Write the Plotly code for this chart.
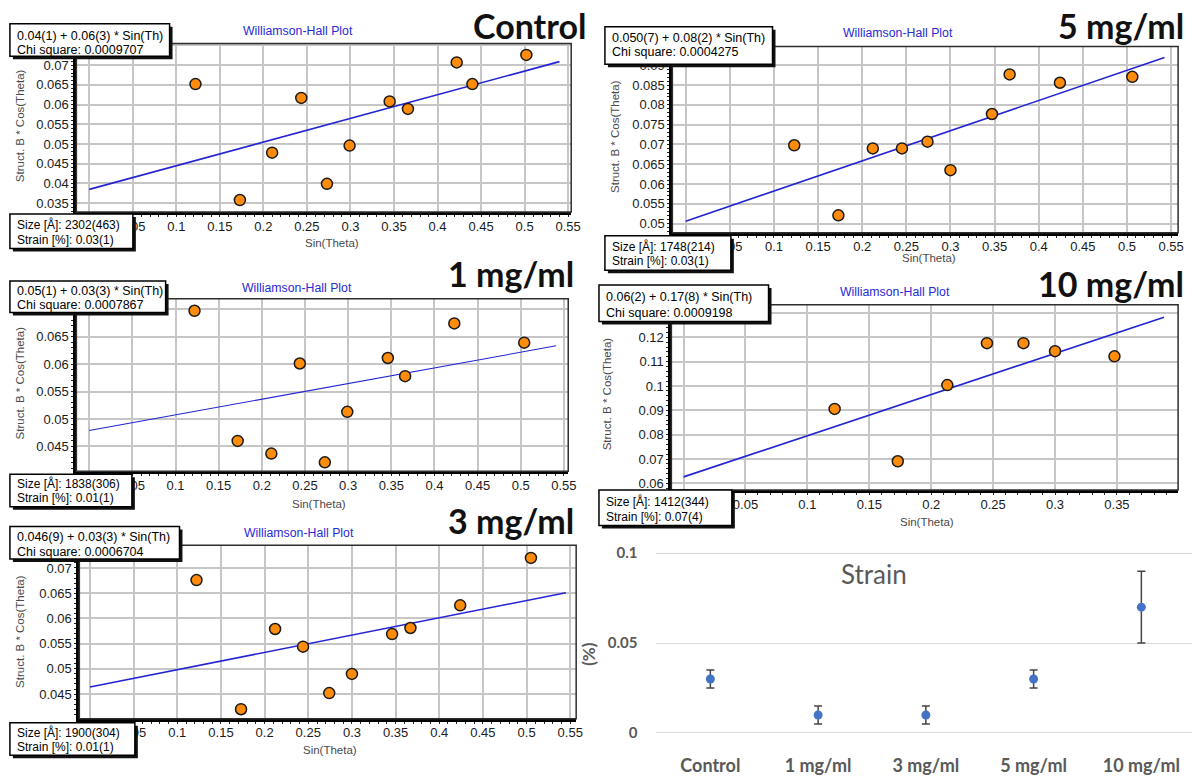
import plotly.graph_objects as go

W, H = 1202, 780

# ---------------------------------------------------------------- data ----
control_sin = [0.122, 0.173, 0.210, 0.2435, 0.273, 0.299, 0.345, 0.366, 0.422, 0.440, 0.502]
control_bcos = [0.0652, 0.0358, 0.0478, 0.0617, 0.0399, 0.0496, 0.0608, 0.0589, 0.0707, 0.0652, 0.0726]

mg1_sin = [0.122, 0.172, 0.211, 0.244, 0.273, 0.299, 0.346, 0.366, 0.423, 0.504]
mg1_bcos = [0.0697, 0.0460, 0.0437, 0.0601, 0.0421, 0.0513, 0.0611, 0.0578, 0.0674, 0.0639]

mg3_sin = [0.122, 0.173, 0.212, 0.244, 0.274, 0.300, 0.346, 0.367, 0.424, 0.505]
mg3_bcos = [0.0676, 0.0420, 0.0579, 0.0544, 0.0452, 0.0490, 0.0569, 0.0581, 0.0626, 0.0720]

mg5_sin = [0.123, 0.173, 0.212, 0.245, 0.274, 0.300, 0.347, 0.367, 0.424, 0.506]
mg5_bcos = [0.0698, 0.0521, 0.0690, 0.0690, 0.0707, 0.0635, 0.0777, 0.0877, 0.0856, 0.0871]

mg10_sin = [0.122, 0.173, 0.213, 0.245, 0.2745, 0.300, 0.348]
mg10_bcos = [0.0906, 0.0691, 0.1004, 0.1176, 0.1176, 0.1143, 0.1122]

sample_names = ["Control", "1 mg/ml", "3 mg/ml", "5 mg/ml", "10 mg/ml"]

fit_intercepts = [0.0385, 0.0479, 0.0464, 0.0506, 0.0627]
fit_slopes = [0.0600, 0.0285, 0.0343, 0.0763, 0.169]
fit_x_end = [0.540, 0.541, 0.545, 0.5425, 0.388]

fit_equations = [
    "0.04(1) + 0.06(3) * Sin(Th)",
    "0.05(1) + 0.03(3) * Sin(Th)",
    "0.046(9) + 0.03(3) * Sin(Th)",
    "0.050(7) + 0.08(2) * Sin(Th)",
    "0.06(2) + 0.17(8) * Sin(Th)",
]
chi_squares = ["0.0009707", "0.0007867", "0.0006704", "0.0004275", "0.0009198"]
size_labels = ["2302(463)", "1838(306)", "1900(304)", "1748(214)", "1412(344)"]
strain_labels = ["0.03(1)", "0.01(1)", "0.01(1)", "0.03(1)", "0.07(4)"]

strain_categories = ["Control", "1 mg/ml", "3 mg/ml", "5 mg/ml", "10 mg/ml"]
strain_values = [0.03, 0.01, 0.01, 0.03, 0.07]
strain_errors = [0.005, 0.005, 0.005, 0.005, 0.02]

series = [
    (control_sin, control_bcos),
    (mg1_sin, mg1_bcos),
    (mg3_sin, mg3_bcos),
    (mg5_sin, mg5_bcos),
    (mg10_sin, mg10_bcos),
]


# ------------------------------------------------------------- helpers ----
def fx(x):
    return x / W


def fy(y):
    return 1 - y / H


def tick_list(lo, hi, step, blank_below=None, blank_above=None):
    """Tick values over [lo, hi]; labels hidden under the info boxes are left empty."""
    vals, texts = [], []
    k = int(lo / step) - 1
    while k * step <= hi + 1e-12:
        v = round(k * step, 6)
        if lo - 1e-12 <= v <= hi + 1e-12:
            vals.append(v)
            hidden = (blank_below is not None and v <= blank_below) or \
                     (blank_above is not None and v >= blank_above)
            texts.append("" if hidden else f"{v:g}")
        k += 1
    return vals, texts


ARIAL = "Arial, Liberation Sans, sans-serif"
LATO = "Lato, Open Sans, sans-serif"

# pixel geometry of each Williamson-Hall panel
geoms = [
    dict(plot=(77, 38, 576, 209), xr=(-0.0148, 0.5535), yr=(0.03275, 0.0755), ydt=0.005, ymin=0.001,
         yhide=0.075,
         eq=(10, 18, 171, 51), eqy=(30, 45), sz=(10, 211, 134, 246), szy=(222, 237),
         wh=(300, 25), big=(592, -2, "top"), yt=(20, 121), xt=(335, 240), lw=1.6),
    dict(plot=(77, 297, 573, 472), xr=(-0.0149, 0.555), yr=(0.04046, 0.07188), ydt=0.005, ymin=0.001,
         yhide=0.07,
         eq=(10, 279, 167, 311), eqy=(289, 303), sz=(10, 475, 133, 508), szy=(484, 499),
         wh=(299, 286), big=(580, 271, "middle"), yt=(20, 382), xt=(322, 505), lw=1.1),
    dict(plot=(80, 547, 581, 723), xr=(-0.0122, 0.5568), yr=(0.0401, 0.0745), ydt=0.005, ymin=0.001,
         yhide=None,
         eq=(10, 528, 181, 561), eqy=(539, 554), sz=(10, 727, 136, 760), szy=(737, 752),
         wh=(302, 535), big=(580, 522, "middle"), yt=(20, 634), xt=(333, 755), lw=1.6),
    dict(plot=(678, 41, 1188, 230), xr=(-0.0151, 0.5579), yr=(0.04769, 0.09478), ydt=0.005, ymin=0.001,
         yhide=None,
         eq=(610, 21, 779, 59), eqy=(32, 47), sz=(610, 233, 737, 268), szy=(244, 259),
         wh=(906, 27), big=(1195, -2, "top"), yt=(620, 132), xt=(937, 256), lw=1.6),
    dict(plot=(677, 303, 1188, 491), xr=(-0.00985, 0.3994), yr=(0.05728, 0.13338), ydt=0.01, ymin=0.002,
         yhide=0.13,
         eq=(604, 283, 775, 320), eqy=(295, 311), sz=(604, 491, 738, 527), szy=(503, 518),
         wh=(903, 290), big=(1195, 281, "middle"), yt=(613, 393), xt=(935, 523), lw=1.6),
]

fig = go.Figure()
layout = dict(
    width=W, height=H, autosize=False,
    margin=dict(l=0, r=0, t=0, b=0),
    paper_bgcolor="white", plot_bgcolor="white",
    showlegend=False,
)
shapes = []
annotations = []

for i, ((xs, ys), g) in enumerate(zip(series, geoms)):
    n = i + 1
    sfx = "" if n == 1 else str(n)
    xa, ya = "x" + sfx, "y" + sfx
    left, top, right, bottom = g["plot"]

    # straight-line fit
    x_end = fit_x_end[i]
    fig.add_trace(go.Scatter(
        x=[0, x_end], y=[fit_intercepts[i], fit_intercepts[i] + fit_slopes[i] * x_end],
        mode="lines", line=dict(color="#2424d4", width=g["lw"]),
        xaxis=xa, yaxis=ya, hoverinfo="skip",
    ))
    # measured reflections
    fig.add_trace(go.Scatter(
        x=xs, y=ys, mode="markers",
        marker=dict(size=11, color="#ff8c0a", line=dict(color="#1a1a1a", width=1.5)),
        xaxis=xa, yaxis=ya,
    ))

    xv, xt = tick_list(g["xr"][0], g["xr"][1], 0.05, blank_below=0.0)
    yv, yt = tick_list(g["yr"][0], g["yr"][1], g["ydt"], blank_above=g["yhide"])

    common = dict(
        showgrid=True, gridcolor="#c6c6c6", gridwidth=1.5,
        zeroline=False, showline=True, linecolor="black", linewidth=3,
        tickfont=dict(family=ARIAL, size=13, color="#1a1a1a"),
    )
    layout["xaxis" + sfx] = dict(
        domain=[fx(left), fx(right)], range=list(g["xr"]), anchor=ya,
        tickmode="array", tickvals=xv, ticktext=xt, ticks="",
        minor=dict(tick0=0, dtick=0.01, ticks="outside", ticklen=2, tickcolor="#222", showgrid=False),
        **common,
    )
    layout["yaxis" + sfx] = dict(
        domain=[fy(bottom), fy(top)], range=list(g["yr"]), anchor=xa,
        tickmode="array", tickvals=yv, ticktext=yt,
        ticks="outside", ticklen=2, tickcolor="#222", tickwidth=1,
        minor=dict(tick0=0, dtick=g["ymin"], ticks="outside", ticklen=2, tickcolor="#222", showgrid=False),
        **common,
    )

    # thin frame around the plotting area
    shapes.append(dict(type="rect", xref="paper", yref="paper", layer="above",
                       x0=fx(left), x1=fx(right), y0=fy(bottom), y1=fy(top),
                       line=dict(color="#2e2e2e", width=1.5), fillcolor="rgba(0,0,0,0)"))

    # info boxes with drop shadow
    for (bx0, by0, bx1, by1) in (g["eq"], g["sz"]):
        shapes.append(dict(type="rect", xref="paper", yref="paper", layer="above",
                           x0=fx(bx0 + 3), x1=fx(bx1 + 3), y0=fy(by1 + 3), y1=fy(by0 + 3),
                           line=dict(width=0), fillcolor="#111"))
        shapes.append(dict(type="rect", xref="paper", yref="paper", layer="above",
                           x0=fx(bx0), x1=fx(bx1), y0=fy(by1), y1=fy(by0),
                           line=dict(color="black", width=1.5), fillcolor="white"))

    eq_font = dict(family=ARIAL, size=12.5, color="black")
    size_font = dict(family=ARIAL, size=12, color="black")
    for text, yy, box, fnt in (
        (fit_equations[i], g["eqy"][0], g["eq"], eq_font),
        ("Chi square: " + chi_squares[i], g["eqy"][1], g["eq"], eq_font),
        ("Size [Å]: " + size_labels[i], g["szy"][0], g["sz"], size_font),
        ("Strain [%]: " + strain_labels[i], g["szy"][1], g["sz"], size_font),
    ):
        annotations.append(dict(text=text, xref="paper", yref="paper", x=fx(box[0] + 5), y=fy(yy),
                                xanchor="left", yanchor="middle", showarrow=False, font=fnt))

    annotations.append(dict(text="Williamson-Hall Plot", xref="paper", yref="paper",
                            x=fx(g["wh"][0]), y=fy(g["wh"][1]), xanchor="center", yanchor="middle",
                            showarrow=False, font=dict(family=ARIAL, size=12.3, color="#2a2ad6")))
    bx, by, banchor = g["big"]
    annotations.append(dict(text=sample_names[i], xref="paper", yref="paper",
                            x=fx(bx), y=fy(by), xanchor="right", yanchor=banchor, borderpad=0,
                            showarrow=False, font=dict(family=LATO, size=34, color="#111", weight=700)))
    annotations.append(dict(text="Struct. B * Cos(Theta)", xref="paper", yref="paper",
                            x=fx(g["yt"][0]), y=fy(g["yt"][1]), xanchor="center", yanchor="middle",
                            textangle=-90, showarrow=False,
                            font=dict(family=ARIAL, size=11.5, color="#4a4a4a")))
    annotations.append(dict(text="Sin(Theta)", xref="paper", yref="paper",
                            x=fx(g["xt"][0]), y=fy(g["xt"][1]), xanchor="center", yanchor="middle",
                            showarrow=False, font=dict(family=ARIAL, size=11.5, color="#4a4a4a")))

# ------------------------------------------------------- strain summary ----
fig.add_trace(go.Scatter(
    x=strain_categories, y=strain_values, mode="markers",
    marker=dict(size=9, color="#4472c4"),
    error_y=dict(type="data", array=strain_errors, color="#454545", thickness=1.5, width=4),
    xaxis="x6", yaxis="y6",
))
layout["xaxis6"] = dict(
    domain=[fx(662), fx(1202)], range=[-0.5, 4.47], type="category", anchor="y6",
    showgrid=False, zeroline=False, showline=False,
    ticks="outside", ticklen=13, tickcolor="rgba(0,0,0,0)",
    tickfont=dict(family=LATO, size=18, color="#595959", weight=700),
)
layout["yaxis6"] = dict(
    domain=[fy(741), fy(551.4)], range=[-0.002, 0.102], anchor="x6",
    tick0=0, dtick=0.05, showgrid=True, gridcolor="#d9d9d9", gridwidth=1,
    zeroline=False, showline=False,
    ticks="outside", ticklen=15, tickcolor="rgba(0,0,0,0)",
    tickfont=dict(family=LATO, size=15, color="#595959", weight=700),
)
annotations.append(dict(text="Strain", xref="paper", yref="paper", x=fx(881), y=fy(576),
                        xanchor="center", yanchor="middle", showarrow=False,
                        font=dict(family=LATO, size=26, color="#595959")))
annotations.append(dict(text="(%)", xref="paper", yref="paper", x=fx(594), y=fy(657),
                        xanchor="center", yanchor="middle", textangle=-90, showarrow=False,
                        font=dict(family=LATO, size=17, color="#595959", weight=700)))

layout["shapes"] = shapes
layout["annotations"] = annotations
fig.update_layout(**layout)

fig.write_html("out.html")
